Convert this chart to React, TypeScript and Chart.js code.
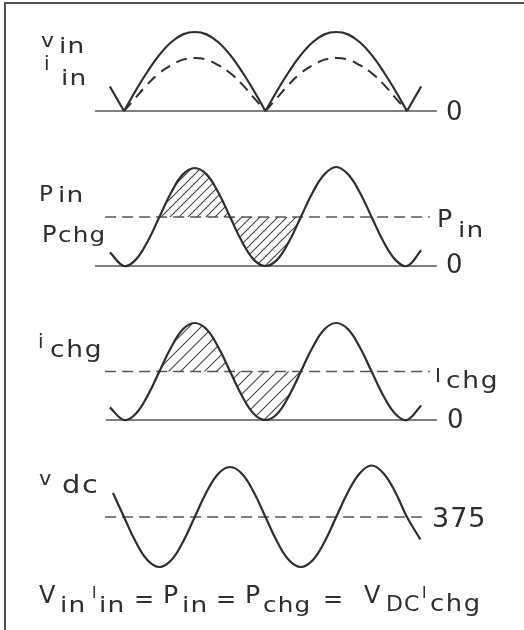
import React, { useEffect, useRef } from "react";
import { Chart, registerables } from "chart.js";

Chart.register(...registerables);

// ---- data (line angle in degrees, per-unit values) ----
const lineAngle = [-18, 0, 15, 30, 45, 60, 75, 90, 105, 120, 135, 150, 165, 180, 195, 210, 225, 240, 255, 270, 285, 300, 315, 330, 345, 360, 378];
const vIn = [0.31, 0, 0.26, 0.5, 0.71, 0.87, 0.97, 1, 0.97, 0.87, 0.71, 0.5, 0.26, 0, 0.26, 0.5, 0.71, 0.87, 0.97, 1, 0.97, 0.87, 0.71, 0.5, 0.26, 0, 0.31];
const iIn = [null, 0, 0.17, 0.34, 0.48, 0.58, 0.65, 0.67, 0.65, 0.58, 0.48, 0.34, 0.17, 0, 0.17, 0.34, 0.48, 0.58, 0.65, 0.67, 0.65, 0.58, 0.48, 0.34, 0.17, 0, null];
const pIn = [0.28, 0, 0.13, 0.5, 1, 1.5, 1.87, 2, 1.87, 1.5, 1, 0.5, 0.13, 0, 0.13, 0.5, 1, 1.5, 1.87, 2.02, 1.87, 1.5, 1, 0.5, 0.13, 0, 0.32];
const iChg = [0.26, 0, 0.13, 0.5, 1, 1.5, 1.87, 2, 1.87, 1.5, 1, 0.5, 0.13, 0, 0.13, 0.5, 1, 1.5, 1.87, 2, 1.87, 1.5, 1, 0.5, 0.13, 0, 0.3];
const vdcAngle = [-14, 0, 15, 30, 45, 60, 75, 90, 105, 120, 135, 150, 165, 180, 195, 210, 225, 240, 255, 270, 285, 300, 315, 330, 345, 360, 377];
const vDc = [384.6, 375, 365, 357.7, 355, 357.7, 365, 375, 385, 392.3, 395, 392.3, 385, 375, 365, 357.7, 355, 357.7, 365, 375, 385, 392.5, 395.6, 392.5, 385, 375, 366];

const zeroLevel = 0;
const pInLevel = 1;
const iChgLevel = 1;
const vDcLevel = 375;

const baseSpan1 = [-37, 398];
const baseSpan2 = [-37, 398];
const baseSpan3 = [-23, 398];
const refSpan23 = [-24, 389];
const refSpan4 = [-24, 379];
const hatchSpan = [45, 225];

// ---- layout ----
const W = 524;
const H = 630;
const PAD_L = 90;
const PAD_R = 84;
const X_MIN = -43.25;
const X_MAX = 402;
const INK = "#2e2e2e";
const FONT = '"DejaVu Sans"';

function axisRange(v0: number, p0: number, v1: number, p1: number) {
  const s = (p0 - p1) / (v1 - v0);
  return { min: v0 - (H - p0) / s, max: v1 + p1 / s };
}

function pts(xs: number[], ys: (number | null)[]) {
  const out: { x: number; y: number }[] = [];
  xs.forEach((x, i) => {
    const y = ys[i];
    if (y !== null && y !== undefined) out.push({ x, y });
  });
  return out;
}

function arches(xs: number[], ys: (number | null)[]) {
  const segs: { x: number; y: number }[][] = [];
  let cur: { x: number; y: number }[] = [];
  xs.forEach((x, i) => {
    const y = ys[i];
    if (y === null || y === undefined) return;
    cur.push({ x, y });
    if (y === 0 && cur.length > 1) {
      segs.push(cur);
      cur = [{ x, y }];
    }
  });
  if (cur.length > 1) segs.push(cur);
  return segs;
}

function span(a: number[], level: number) {
  return [
    { x: a[0], y: level },
    { x: a[1], y: level },
  ];
}

function hatch(size: number) {
  const c = document.createElement("canvas");
  c.width = size;
  c.height = size;
  const g = c.getContext("2d")!;
  g.strokeStyle = "#444";
  g.lineWidth = 1.1;
  g.beginPath();
  g.moveTo(-1, size + 1);
  g.lineTo(size + 1, -1);
  g.moveTo(-1, 1);
  g.lineTo(1, -1);
  g.moveTo(size - 1, size + 1);
  g.lineTo(size + 1, size - 1);
  g.stroke();
  return g.createPattern(c, "repeat")!;
}

// [text, x, baseline y, font size, horizontal stretch, letter spacing]
type Txt = [string, number, number, number, number?, number?];
const TEXTS: Txt[] = [
  ["v", 41, 47, 20, 1.1],
  ["in", 59, 53, 22, 1.2, 1],
  ["i", 44, 70, 20],
  ["in", 61, 85, 22, 1.2, 1],
  ["0", 446, 120, 26],
  ["P", 39, 201, 22, 1.05],
  ["in", 58, 202, 22, 1.2, 1],
  ["P", 42, 242, 23, 1.05],
  ["chg", 58, 242, 22, 1.12, 1],
  ["P", 437, 227, 24, 1.05],
  ["in", 458, 237, 22, 1.2, 1],
  ["0", 446, 273, 26],
  ["i", 38, 348, 20],
  ["chg", 50, 357, 23, 1.15, 1.5],
  ["I", 435, 382, 20],
  ["chg", 446, 388, 23, 1.15, 1.5],
  ["0", 447, 428, 26],
  ["v", 39, 485, 19, 1.1],
  ["dc", 62, 493, 24, 1.2, 1.5],
  ["375", 432, 527, 27, 1, 1],
  ["V", 39, 603, 24],
  ["in", 60, 612, 22, 1.2, 1],
  ["I", 92, 598, 15],
  ["in", 99, 612, 22, 1.2, 1],
  ["=", 134, 607, 24],
  ["P", 163, 603, 24, 1.05],
  ["in", 182, 612, 22, 1.2, 1],
  ["=", 216, 607, 24],
  ["P", 245, 603, 24, 1.05],
  ["chg", 263, 612, 22, 1.12, 1],
  ["=", 323, 607, 24],
  ["V", 364, 603, 24],
  ["DC", 386, 611, 21, 1.05, 1],
  ["I", 422, 598, 15],
  ["chg", 430, 611, 23, 1.12, 1.5],
];

const textPlugin = {
  id: "diagramText",
  afterDraw(chart: any) {
    const ctx = chart.ctx as CanvasRenderingContext2D;
    for (const [t, x, y, s, sx, ls] of TEXTS) {
      ctx.save();
      ctx.fillStyle = INK;
      ctx.textAlign = "left";
      ctx.textBaseline = "alphabetic";
      ctx.font = `${s}px ${FONT}`;
      (ctx as any).letterSpacing = `${ls ?? 0}px`;
      ctx.translate(x, y);
      ctx.scale(sx ?? 1, 1);
      ctx.fillText(t, 0, 0);
      ctx.restore();
    }
  },
};

export default function App() {
  const ref = useRef<HTMLCanvasElement>(null);

  useEffect(() => {
    if (!ref.current) return;
    const curve = { borderColor: INK, borderWidth: 2.2, pointRadius: 0, tension: 0.4, fill: false };
    const thin = { borderColor: "#555", borderWidth: 1.5, pointRadius: 0, tension: 0, fill: false };
    const dashed = { ...thin, borderDash: [11, 6] };
    const ds: any[] = [];

    arches(lineAngle, vIn).forEach((seg) => ds.push({ ...curve, data: seg, yAxisID: "y1" }));
    arches(lineAngle, iIn).forEach((seg) =>
      ds.push({ ...curve, borderWidth: 2, borderDash: [11, 7], data: seg, yAxisID: "y1" })
    );
    ds.push({ ...curve, data: pts(lineAngle, pIn), yAxisID: "y2" });
    ds.push({ ...curve, data: pts(lineAngle, iChg), yAxisID: "y3" });
    ds.push({ ...curve, data: pts(vdcAngle, vDc), yAxisID: "y4" });

    const inHatch = (p: { x: number }) => p.x >= hatchSpan[0] && p.x <= hatchSpan[1];
    ds.push({
      ...curve,
      borderColor: "rgba(0,0,0,0)",
      data: pts(lineAngle, pIn).filter(inHatch),
      fill: { value: pInLevel },
      backgroundColor: hatch(9),
      yAxisID: "y2",
    });
    ds.push({
      ...curve,
      borderColor: "rgba(0,0,0,0)",
      data: pts(lineAngle, iChg).filter(inHatch),
      fill: { value: iChgLevel },
      backgroundColor: hatch(12),
      yAxisID: "y3",
    });

    ds.push({ ...thin, data: span(baseSpan1, zeroLevel), yAxisID: "y1" });
    ds.push({ ...thin, data: span(baseSpan2, zeroLevel), yAxisID: "y2" });
    ds.push({ ...thin, data: span(baseSpan3, zeroLevel), yAxisID: "y3" });
    ds.push({ ...dashed, data: span(refSpan23, pInLevel), yAxisID: "y2" });
    ds.push({ ...dashed, data: span(refSpan23, iChgLevel), yAxisID: "y3" });
    ds.push({ ...dashed, data: span(refSpan4, vDcLevel), yAxisID: "y4" });

    const hidden = { type: "linear", display: false, bounds: "data" };
    const chart = new Chart(ref.current, {
      type: "line",
      data: { datasets: ds },
      plugins: [textPlugin],
      options: {
        animation: false,
        responsive: false,
        events: [],
        layout: { padding: { left: PAD_L, right: PAD_R, top: 0, bottom: 0 } },
        plugins: { legend: { display: false }, title: { display: false }, tooltip: { enabled: false } },
        scales: {
          x: { ...hidden, min: X_MIN, max: X_MAX },
          y1: { ...hidden, ...axisRange(0, 111, 1, 32) },
          y2: { ...hidden, ...axisRange(0, 266, 2, 168) },
          y3: { ...hidden, ...axisRange(0, 420, 2, 323) },
          y4: { ...hidden, ...axisRange(375, 517, 395, 467) },
        },
      } as any,
    });
    return () => chart.destroy();
  }, []);

  return (
    <div style={{ position: "absolute", left: 0, top: 0, width: W, height: H, background: "#fff", overflow: "hidden" }}>
      <div
        style={{
          position: "absolute",
          left: 4,
          top: 2,
          width: W - 4,
          height: H - 2,
          borderTop: "2px solid #555",
          borderLeft: "2px solid #555",
          boxSizing: "border-box",
        }}
      />
      <canvas ref={ref} width={W} height={H} style={{ position: "absolute", left: 0, top: 0, width: W, height: H }} />
    </div>
  );
}
